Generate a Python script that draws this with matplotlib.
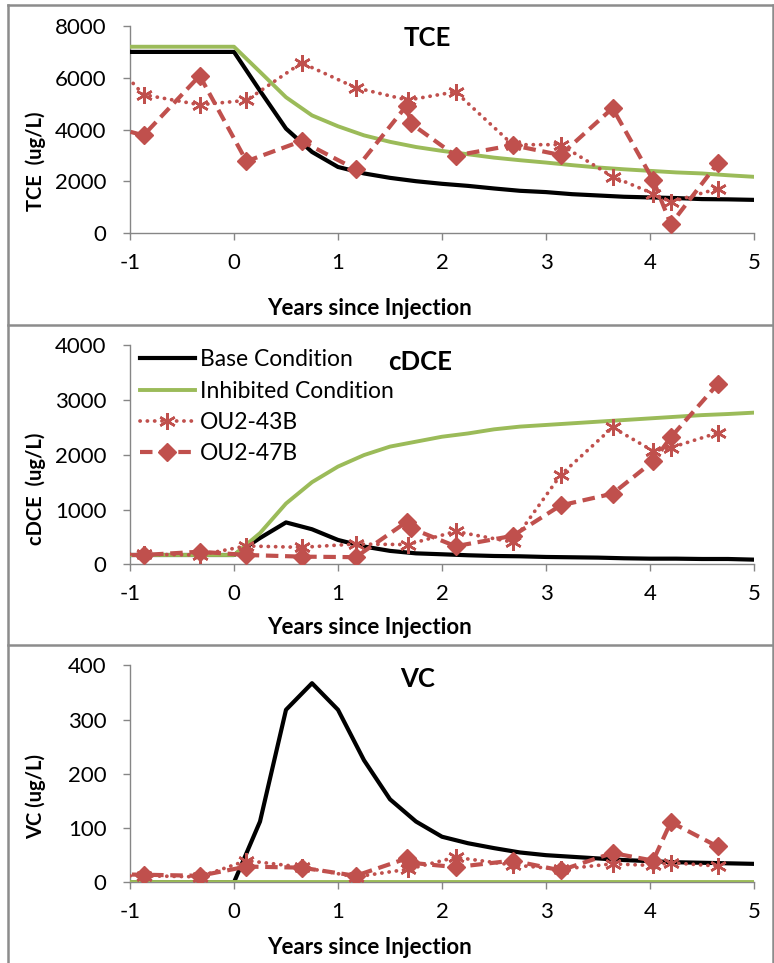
import numpy as np
import matplotlib
matplotlib.use("Agg")
import matplotlib.pyplot as plt
from matplotlib.lines import Line2D

plt.rcParams['font.family'] = ['Lato', 'DejaVu Sans']
plt.rcParams['axes.unicode_minus'] = False

RED = '#C0504D'
GREEN = '#9BBB59'
AXC = '#868686'

# model curves (quarter-year steps after injection)
t_model = [-1, 0, 0.25, 0.5, 0.75, 1, 1.25, 1.5, 1.75, 2, 2.25, 2.5, 2.75,
           3, 3.25, 3.5, 3.75, 4, 4.25, 4.5, 4.75, 5]
tce_base = [7000, 7000, 5500, 4040, 3140, 2560, 2310, 2140, 2010, 1910, 1830,
            1730, 1640, 1590, 1510, 1460, 1410, 1385, 1360, 1320, 1310, 1290]
tce_inhib = [7200, 7200, 6230, 5250, 4550, 4130, 3780, 3530, 3330, 3180, 3050,
             2920, 2820, 2730, 2630, 2540, 2470, 2410, 2350, 2310, 2240, 2180]
cdce_base = [170, 170, 480, 765, 640, 445, 325, 245, 200, 183, 165, 152, 146,
             134, 128, 122, 110, 103, 103, 97, 97, 85]
cdce_inhib = [170, 170, 570, 1110, 1500, 1785, 1995, 2150, 2240, 2330, 2390,
              2465, 2515, 2545, 2575, 2605, 2635, 2665, 2695, 2725, 2745, 2770]
vc_base = [0, 0, 112, 318, 367, 318, 225, 153, 112, 84, 72, 63, 55, 50, 47,
           44, 41, 39, 37, 36, 35, 34]
vc_inhib = [0] * len(t_model)

# monitoring wells
t_43b = [-1.35, -0.87, -0.33, 0.12, 0.65, 1.17, 1.67, 2.13, 2.68, 3.14, 3.64,
         4.03, 4.2, 4.65]
tce_43b = [7450, 5350, 4960, 5130, 6580, 5620, 5140, 5460, 3420, 3420, 2190,
           1530, 1210, 1720]
cdce_43b = [180, 183, 170, 335, 310, 370, 360, 600, 405, 1630, 2500, 2070,
            2130, 2400]
vc_43b = [12, 12, 10, 40, 28, 10, 24, 46, 32, 24, 34, 31, 36, 30]

t_47b = [-1.35, -0.87, -0.33, 0.12, 0.65, 1.17, 1.66, 1.70, 2.13, 2.68, 3.14,
         3.64, 4.03, 4.2, 4.65]
tce_47b = [4300, 3780, 6080, 2780, 3560, 2470, 4930, 4240, 3000, 3400, 3020,
           4830, 2055, 350, 2700]
cdce_47b = [170, 170, 230, 170, 140, 130, 775, 660, 330, 520, 1075, 1290,
            1880, 2320, 3290]
vc_47b = [15, 14, 12, 29, 27, 12, 44, 36, 28, 40, 22, 54, 40, 111, 66]

xticks = [-1, 0, 1, 2, 3, 4, 5]
xtick_labels = ['-1', '0', '1', '2', '3', '4', '5']

panels = [
    dict(title='TCE', ylabel='TCE  (ug/L)', ymax=8000, ystep=2000,
         base=tce_base, inhib=tce_inhib, w43=tce_43b, w47=tce_47b,
         top=26, bot=233.3, title_xy=(427, 38), ylab_y=161, xlab_y=315),
    dict(title='cDCE', ylabel='cDCE  (ug/L)', ymax=4000, ystep=1000,
         base=cdce_base, inhib=cdce_inhib, w43=cdce_43b, w47=cdce_47b,
         top=345.3, bot=564.3, title_xy=(420, 362), ylab_y=489, xlab_y=634),
    dict(title='VC', ylabel='VC (ug/L)', ymax=400, ystep=100,
         base=vc_base, inhib=vc_inhib, w43=vc_43b, w47=vc_47b,
         top=665.3, bot=882.3, title_xy=(418, 679), ylab_y=796, xlab_y=954),
]

W, H = 774, 963
fig = plt.figure(figsize=(W / 100, H / 100), dpi=100)

# panel frames
for y in [5, 325, 645]:
    fig.add_artist(Line2D([7.5 / W, 772.5 / W], [1 - y / H, 1 - y / H],
                          color='#8C8C8C', lw=1.8, transform=fig.transFigure))
fig.add_artist(Line2D([7.5 / W, 7.5 / W], [1 - 5 / H, 0], color='#8C8C8C',
                      lw=1.8, transform=fig.transFigure))
fig.add_artist(Line2D([772.5 / W, 772.5 / W], [1 - 5 / H, 0], color='#8C8C8C',
                      lw=1.8, transform=fig.transFigure))

left, right = 130, 754
for i, p in enumerate(panels):
    ax = fig.add_axes([left / W, 1 - p['bot'] / H, (right - left) / W,
                       (p['bot'] - p['top']) / H])
    ax.plot(t_model, p['base'], color='black', lw=3.0, label='Base Condition',
            zorder=3)
    ax.plot(t_model, p['inhib'], color=GREEN, lw=2.8,
            label='Inhibited Condition', zorder=4)
    ax.plot(t_43b, p['w43'], color=RED, lw=2.7, linestyle=(0, (0.05, 1.9)),
            dash_capstyle='round', marker=(6, 2, 0), ms=12, mew=1.8,
            mec=RED, label='OU2-43B', zorder=5)
    ax.plot(t_47b, p['w47'], color=RED, lw=3.0, linestyle=(0, (3.0, 1.6)),
            marker='D', ms=9.5, mec=RED, mfc=RED, label='OU2-47B', zorder=6)

    ax.set_xlim(-1, 5)
    ax.set_ylim(0, p['ymax'])
    ax.set_xticks(xticks)
    ax.set_xticklabels(xtick_labels)
    ax.set_yticks(np.arange(0, p['ymax'] + 1, p['ystep']))
    for s in ['top', 'right']:
        ax.spines[s].set_visible(False)
    for s in ['left', 'bottom']:
        ax.spines[s].set_color(AXC)
        ax.spines[s].set_linewidth(1.0)
    ax.tick_params(axis='both', colors=AXC, labelcolor='black', length=5,
                   width=1.0, labelsize=16, direction='out')
    ax.tick_params(axis='y', pad=12)
    ax.tick_params(axis='x', pad=9)

    fig.text(p['title_xy'][0] / W, 1 - p['title_xy'][1] / H, p['title'],
             fontsize=18.5, fontweight='bold', ha='center', va='center')
    fig.text(36 / W, 1 - p['ylab_y'] / H, p['ylabel'], rotation=90,
             fontsize=14.5, fontweight='bold', ha='center', va='center')
    fig.text(369 / W, 1 - p['xlab_y'] / H, 'Years since Injection',
             fontsize=16, fontweight='bold', ha='center', va='baseline')

    if i == 1:
        ax.legend(loc='upper left', bbox_to_anchor=(0.016, 0.982),
                  frameon=False, fontsize=16.5, handlelength=2.4,
                  handletextpad=0.2, labelspacing=0.45, borderpad=0,
                  borderaxespad=0, numpoints=1)

fig.savefig('out.png', dpi=100)
